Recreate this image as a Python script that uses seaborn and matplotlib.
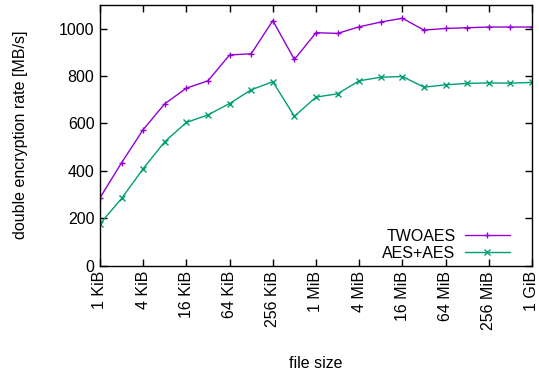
import numpy as np
import pandas as pd
import seaborn as sns
import matplotlib
matplotlib.use("Agg")
import matplotlib.pyplot as plt

sizes_kib = [2 ** i for i in range(21)]  # 1 KiB .. 1 GiB
twoaes = [286, 434, 574, 683, 749, 780, 889, 894, 1034, 870, 983, 980, 1008, 1028,
          1044, 994, 1001, 1004, 1007, 1007, 1007]
aesaes = [176, 283, 409, 523, 604, 636, 684, 742, 776, 630, 711, 725, 780, 795,
          798, 753, 763, 769, 771, 770, 773]
tick_labels = ["1 KiB", "4 KiB", "16 KiB", "64 KiB", "256 KiB", "1 MiB", "4 MiB",
               "16 MiB", "64 MiB", "256 MiB", "1 GiB"]

sns.set_theme(style="ticks")
plt.rcParams['font.family'] = ['Liberation Sans', 'DejaVu Sans']
plt.rcParams['text.color'] = 'black'
plt.rcParams['axes.labelcolor'] = 'black'
plt.rcParams['xtick.color'] = 'black'
plt.rcParams['ytick.color'] = 'black'

df = pd.DataFrame({
    "size": sizes_kib * 2,
    "rate": twoaes + aesaes,
    "series": ["TWOAES"] * 21 + ["AES+AES"] * 21,
})

fig = plt.figure(figsize=(5.39, 3.76), dpi=100)
ax = fig.add_axes([100 / 539, 1 - 265.5 / 376, 432 / 539, 260.5 / 376])

palette = {"TWOAES": "#9400D3", "AES+AES": "#009E73"}
markers = {"TWOAES": "+", "AES+AES": "x"}
sns.lineplot(data=df, x="size", y="rate", hue="series", style="series",
             palette=palette, markers=markers, dashes=False, ax=ax,
             linewidth=1.0, markersize=5, legend=False)
for ln in ax.get_lines():
    ln.set_markeredgecolor(ln.get_color())
    ln.set_markeredgewidth(1.0)

ax.set_xscale("log", base=2)
ax.set_xlim(1, 2 ** 20)
ax.set_ylim(0, 1100)
ax.set_xticks([sizes_kib[i] for i in range(0, 21, 2)])
ax.set_xticklabels(tick_labels, rotation=90, fontsize=11.5)
ax.xaxis.set_minor_locator(matplotlib.ticker.NullLocator())
ax.set_yticks([0, 200, 400, 600, 800, 1000])
ax.tick_params(axis="y", labelsize=11.5)
ax.tick_params(direction="in", top=True, right=True, length=5, width=1, color="black", pad=4)
for s in ax.spines.values():
    s.set_linewidth(1.0)
    s.set_color("black")
ax.set_xlabel("file size", fontsize=11.5, labelpad=19)
ax.set_ylabel("double encryption rate [MB/s]", fontsize=11.5, labelpad=22)

handles = []
for name in ["TWOAES", "AES+AES"]:
    h = matplotlib.lines.Line2D([], [], color=palette[name], marker=markers[name],
                                markersize=5, markeredgecolor=palette[name],
                                markeredgewidth=1.0, linewidth=1.0)
    handles.append(h)
ax.legend(handles, ["TWOAES", "AES+AES"], loc="lower right",
          bbox_to_anchor=(0.956, 0.005), frameon=False, markerfirst=False,
          fontsize=11.5, handlelength=2.8, borderaxespad=0, borderpad=0.2,
          labelspacing=0.15, handletextpad=0.6)

fig.savefig("out.png", dpi=100)
